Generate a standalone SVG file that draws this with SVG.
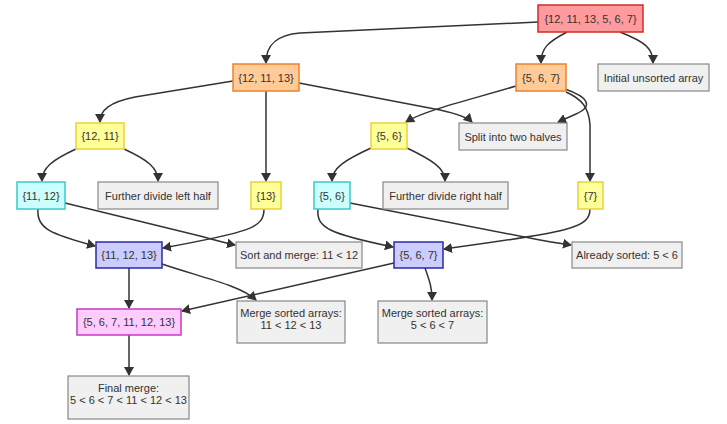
<svg xmlns="http://www.w3.org/2000/svg" width="727" height="424" viewBox="0 0 727 424">
<defs>
<marker id="arr" markerWidth="10" markerHeight="10" refX="8" refY="5" orient="auto" markerUnits="userSpaceOnUse">
<path d="M0,0 L9,5 L0,10 z" fill="#333"/>
</marker>
<style>
text{font-family:"Liberation Sans",Arial,sans-serif;font-size:11px;fill:#333;text-anchor:middle;dominant-baseline:central}
.e{fill:none;stroke:#333;stroke-width:1.5;marker-end:url(#arr)}
.red{fill:#ff9a9e;stroke:#d42a2a;stroke-width:1.5}
.org{fill:#ffcc99;stroke:#f0802a;stroke-width:1.5}
.yel{fill:#ffff99;stroke:#e8d23a;stroke-width:1.5}
.cyn{fill:#ccffff;stroke:#3cc8c8;stroke-width:1.5}
.blu{fill:#ccccff;stroke:#2a2aa8;stroke-width:1.5}
.mag{fill:#ffccff;stroke:#c83ac8;stroke-width:1.5}
.note{fill:#f0f0f0;stroke:#888;stroke-width:1.2}
</style>
</defs>
<rect width="727" height="424" fill="#fff"/>
<g id="edges">
<path class="e" d="M538,22 L300,33 C276,35 266,45 266,63"/>
<path class="e" d="M567,32 C548,42 541,48 541,63"/>
<path class="e" d="M620,32 C645,42 653,48 653,63"/>
<path class="e" d="M233,81 L135,97 C110,102 100,110 100,122"/>
<path class="e" d="M266,91 L266,181"/>
<path class="e" d="M299,83 L440,110 C458,114 467,117 472,122"/>
<path class="e" d="M516,86 C470,100 425,110 406,122"/>
<path class="e" d="M565,89 C588,97 594,106 576,114 L558,122"/>
<path class="e" d="M566,92 C582,99 589,108 590,125 L590,181"/>
<path class="e" d="M76,149 C52,160 42,168 42,181"/>
<path class="e" d="M124,149 C148,160 158,168 158,181"/>
<path class="e" d="M371,148 C345,160 332,168 332,181"/>
<path class="e" d="M407,148 C432,160 445,168 445,181"/>
<path class="e" d="M38,209 C36,228 50,234 95,246"/>
<path class="e" d="M65,203 L200,236 C215,240 225,243 235,245"/>
<path class="e" d="M264,209 C264,228 250,232 163,248"/>
<path class="e" d="M318,209 C316,228 330,234 393,247"/>
<path class="e" d="M350,203 L540,240 C555,243 565,244 571,245"/>
<path class="e" d="M590,209 C590,228 570,232 444,249"/>
<path class="e" d="M129,268 L129,308"/>
<path class="e" d="M162,264 C200,277 240,285 256,300"/>
<path class="e" d="M394,263 L182,311"/>
<path class="e" d="M425,268 C430,282 432,288 432,300"/>
<path class="e" d="M129,335 L129,375"/>
</g>
<g id="A"><rect class="red" x="538" y="5" width="105" height="27"/><text x="590.5" y="18.5">{12, 11, 13, 5, 6, 7}</text></g>
<g id="B"><rect class="org" x="233" y="64" width="66" height="27"/><text x="266" y="77.5">{12, 11, 13}</text></g>
<g id="C"><rect class="org" x="516" y="64" width="50" height="27"/><text x="541" y="77.5">{5, 6, 7}</text></g>
<g id="D"><rect class="note" x="598" y="64" width="111" height="27"/><text x="653.5" y="77.5">Initial unsorted array</text></g>
<g id="E"><rect class="yel" x="76" y="123" width="48" height="26"/><text x="100" y="136">{12, 11}</text></g>
<g id="F"><rect class="yel" x="371" y="123" width="36" height="26"/><text x="389" y="136">{5, 6}</text></g>
<g id="G"><rect class="note" x="459" y="123" width="108" height="27"/><text x="513" y="136.5">Split into two halves</text></g>
<g id="H"><rect class="cyn" x="17" y="182" width="48" height="27"/><text x="41" y="195.5">{11, 12}</text></g>
<g id="I"><rect class="note" x="98" y="182" width="120" height="27"/><text x="158" y="195.5">Further divide left half</text></g>
<g id="J"><rect class="yel" x="251" y="182" width="30" height="27"/><text x="266" y="195.5">{13}</text></g>
<g id="K"><rect class="cyn" x="314" y="182" width="36" height="27"/><text x="332" y="195.5">{5, 6}</text></g>
<g id="L"><rect class="note" x="383" y="182" width="125" height="27"/><text x="445.5" y="195.5">Further divide right half</text></g>
<g id="M"><rect class="yel" x="578" y="182" width="25" height="27"/><text x="590.5" y="195.5">{7}</text></g>
<g id="N"><rect class="blu" x="96" y="242" width="66" height="26"/><text x="129" y="255">{11, 12, 13}</text></g>
<g id="O"><rect class="note" x="236" y="242" width="126" height="26"/><text x="299" y="255">Sort and merge: 11 &lt; 12</text></g>
<g id="P"><rect class="blu" x="394" y="242" width="49" height="26"/><text x="418.5" y="255">{5, 6, 7}</text></g>
<g id="Q"><rect class="note" x="572" y="242" width="110" height="26"/><text x="627" y="255">Already sorted: 5 &lt; 6</text></g>
<g id="R"><rect class="mag" x="77" y="309" width="104" height="26"/><text x="129" y="322">{5, 6, 7, 11, 12, 13}</text></g>
<g id="S"><rect class="note" x="237" y="301" width="108" height="42"/><text x="291" y="313">Merge sorted arrays:</text><text x="291" y="325">11 &lt; 12 &lt; 13</text></g>
<g id="T"><rect class="note" x="378" y="301" width="109" height="42"/><text x="432.5" y="313">Merge sorted arrays:</text><text x="432.5" y="325">5 &lt; 6 &lt; 7</text></g>
<g id="U"><rect class="note" x="68" y="376" width="121" height="43"/><text x="128.5" y="388">Final merge:</text><text x="128.5" y="400">5 &lt; 6 &lt; 7 &lt; 11 &lt; 12 &lt; 13</text></g>
</svg>
